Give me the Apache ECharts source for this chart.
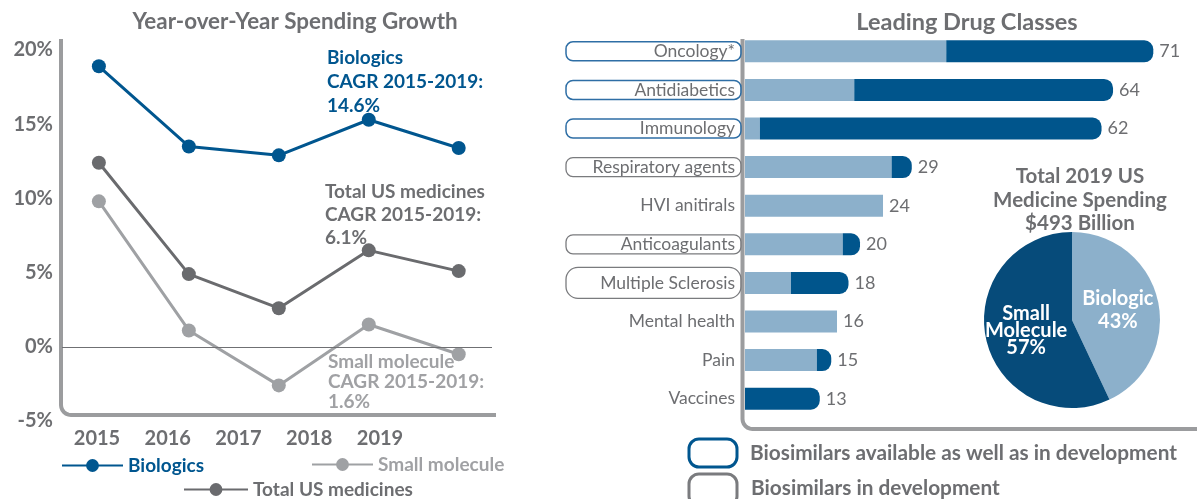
<!doctype html>
<html>
	<head>
		<meta charset="UTF-8">
		<title>US medicine spending</title>
		<script src="https://cdn.jsdelivr.net/npm/echarts@6.0.0/dist/echarts.min.js"></script>
		<style>
			html, body { margin: 0; padding: 0; background: #fff; }
			#main { width: 1197px; height: 499px; }
		</style>
	</head>
	<body>
		<div id="main"></div>
		<script type="text/javascript">
			// 年度增长（%）
			var years = ['2015', '2016', '2017', '2018', '2019'];
			var biologics = [18.9, 13.5, 12.9, 15.3, 13.4];
			var totalUS = [12.4, 4.9, 2.6, 6.5, 5.1];
			var smallMolecule = [9.8, 1.1, -2.6, 1.5, -0.5];

			// 主要药物类别（十亿美元）
			var drugClasses = ['Oncology*', 'Antidiabetics', 'Immunology', 'Respiratory agents', 'HVI anitirals',
				'Anticoagulants', 'Multiple Sclerosis', 'Mental health', 'Pain', 'Vaccines'];
			var classTotals = [71, 64, 62, 29, 24, 20, 18, 16, 15, 13];
			var smallPart = [35, 19, 2.6, 25.5, 24, 17, 8, 16, 12.5, 0];
			var biologicPart = [36, 45, 59.4, 3.5, 0, 3, 10, 0, 2.5, 13];
			var biosimilarStatus = ['available', 'available', 'available', 'development', '',
				'development', 'development', '', '', ''];

			// 2019 总支出构成
			var spendNames = ['Biologic', 'Small Molecule'];
			var spendPct = [43, 57];

			var FONT = 'Lato, "Noto Sans", sans-serif';
			var GRAY = '#6d6e71';
			var BLUE = '#00568f';
			var LIGHT = '#8cb0cb';
			var LGRAY = '#a0a1a4';

			var myChart = echarts.init(document.getElementById('main'));

			function pairs(arr) {
				return arr.map(function (v, i) { return [i, v]; });
			}

			// L形坐标框（圆角）
			function frame(x, top, y, right, r) {
				var pts = [[x, top]];
				for (var d = 0; d <= 90; d += 15) {
					var a = d * Math.PI / 180;
					pts.push([x + r - r * Math.cos(a), y - r + r * Math.sin(a)]);
				}
				pts.push([right, y]);
				return pts;
			}

			function lineSeries(name, data, color) {
				return {
					type: 'line',
					name: name,
					xAxisIndex: 0,
					yAxisIndex: 0,
					data: pairs(data),
					symbol: 'circle',
					symbolSize: 14,
					lineStyle: { color: color, width: 3 },
					itemStyle: { color: color },
					silent: true
				};
			}

			var boxBase = { width: 169, height: 19, align: 'right', padding: [0, 6, 0, 0], fontSize: 17.5, color: GRAY, fontFamily: FONT };
			var richBoxes = {
				avail: echarts.util.extend({ borderColor: '#2e6ea5', borderWidth: 1.5, borderRadius: 7 }, boxBase),
				dev: echarts.util.extend({ borderColor: '#7a7b7e', borderWidth: 1.3, borderRadius: 7 }, boxBase),
				devTall: echarts.util.extend({ borderColor: '#7a7b7e', borderWidth: 1.3, borderRadius: 12 }, boxBase),
				plain: echarts.util.extend({}, boxBase)
			};
			richBoxes.devTall.height = 31;

			var legendText = { fontSize: 19, fontWeight: 'bold' };

			var option = {
				animation: false,
				backgroundColor: '#fff',
				textStyle: { fontFamily: FONT },
				title: [
					{ text: 'Year-over-Year Spending Growth', left: 295, top: 9, textAlign: 'center', padding: 0,
						textStyle: { fontSize: 22.4, fontWeight: 'bold', color: GRAY, lineHeight: 26 } },
					{ text: 'Leading Drug Classes', left: 967, top: 9, textAlign: 'center', padding: 0,
						textStyle: { fontSize: 23.5, fontWeight: 'bold', color: GRAY, lineHeight: 26 } },
					{ text: 'Total 2019 US\nMedicine Spending\n$493 Billion', left: 1080, top: 165, textAlign: 'center', padding: 0,
						textStyle: { fontSize: 20.5, fontWeight: 'bold', color: GRAY, lineHeight: 23.5 } }
				],
				legend: [
					{ data: [{ name: 'Biologics', textStyle: { color: BLUE } }], left: 61, top: 456, padding: 0,
						itemWidth: 61, itemHeight: 16, textStyle: legendText, selectedMode: false },
					{ data: [{ name: 'Small molecule', textStyle: { color: LGRAY } }], left: 311, top: 455, padding: 0,
						itemWidth: 61, itemHeight: 16, textStyle: legendText, selectedMode: false },
					{ data: [{ name: 'Total US medicines', textStyle: { color: GRAY } }], left: 183, top: 480, padding: 0,
						itemWidth: 64, itemHeight: 16, textStyle: legendText, selectedMode: false }
				],
				grid: [
					{ left: 62, right: 705, top: 50, bottom: 78 },
					{ left: 97, right: 817, top: 420, height: 1 },
					{ left: 745, right: 0, top: 32, bottom: 81 }
				],
				xAxis: [
					{ gridIndex: 0, type: 'value', min: -0.41, max: 4.37, show: false },
					{ gridIndex: 1, type: 'category', data: years, boundaryGap: false,
						axisLine: { show: false }, axisTick: { show: false }, splitLine: { show: false },
						axisLabel: { margin: 8, fontSize: 20, fontWeight: 'bold', color: GRAY } },
					{ gridIndex: 2, type: 'value', min: 0, max: 78.6, show: false }
				],
				yAxis: [
					{ gridIndex: 0, type: 'value', min: -5, max: 20, interval: 5,
						axisLine: { show: false }, axisTick: { show: false }, splitLine: { show: false },
						axisLabel: { formatter: '{value}%', margin: 9, fontSize: 20, fontWeight: 'bold', color: GRAY } },
					{ gridIndex: 1, type: 'value', show: false },
					{ gridIndex: 2, type: 'category', data: drugClasses, inverse: true,
						axisLine: { show: false }, axisTick: { show: false }, splitLine: { show: false },
						axisLabel: {
							margin: 4,
							interval: 0,
							formatter: function (value, index) {
								var s = biosimilarStatus[index];
								var key = 'plain';
								if (s === 'available') key = 'avail';
								if (s === 'development') key = value === 'Multiple Sclerosis' ? 'devTall' : 'dev';
								return '{' + key + '|' + value + '}';
							},
							rich: richBoxes
						} }
				],
				series: [
					lineSeries('Small molecule', smallMolecule, '#9fa1a4'),
					lineSeries('Total US medicines', totalUS, '#6a6b6e'),
					lineSeries('Biologics', biologics, BLUE),
					{
						type: 'line', name: 'zero', xAxisIndex: 0, yAxisIndex: 0, data: [], silent: true,
						markLine: { silent: true, symbol: 'none', label: { show: false },
							lineStyle: { color: '#6f7073', width: 1, type: 'solid' }, data: [{ yAxis: 0 }] }
					},
					{
						type: 'bar', name: 'small part', xAxisIndex: 2, yAxisIndex: 2, stack: 'cls',
						data: smallPart, barWidth: 22, itemStyle: { color: LIGHT }, silent: true
					},
					{
						type: 'bar', name: 'biologic part', xAxisIndex: 2, yAxisIndex: 2, stack: 'cls',
						data: biologicPart, barWidth: 22, silent: true,
						itemStyle: { color: '#00558c', borderRadius: [0, 9, 9, 0] },
						label: {
							show: true, position: 'right', distance: 6, fontSize: 18, color: GRAY,
							formatter: function (p) { return classTotals[p.dataIndex]; }
						}
					},
					{
						type: 'pie', name: 'spending', center: [1072, 320], radius: 88, startAngle: 90,
						silent: true,
						data: spendNames.map(function (n, i) {
							return {
								name: n, value: spendPct[i],
								itemStyle: { color: i === 0 ? LIGHT : '#064b7a', borderWidth: 0 },
								label: { lineHeight: i === 0 ? 23 : 17 }
							};
						}),
						label: {
							show: true, position: 'inside', color: '#fff', fontSize: 20, fontWeight: 'bold',
							formatter: function (p) { return p.name.replace(' ', '\n') + '\n' + p.value + '%'; }
						},
						labelLine: { show: false }
					}
				],
				graphic: [
					{ type: 'polyline', silent: true, shape: { points: frame(61, 39, 415, 496, 10) },
						style: { stroke: '#9b9c9e', lineWidth: 4, fill: null } },
					{ type: 'polyline', silent: true, shape: { points: frame(742.5, 39, 429, 1197, 10) },
						style: { stroke: '#9b9c9e', lineWidth: 4, fill: null } },
					{ type: 'text', x: 327, y: 46, silent: true,
						style: { text: 'Biologics\nCAGR 2015-2019:\n14.6%', fontSize: 19, fontWeight: 'bold', fontFamily: FONT,
							fill: BLUE, lineHeight: 24, verticalAlign: 'top' } },
					{ type: 'text', x: 325, y: 180, silent: true,
						style: { text: 'Total US medicines\nCAGR 2015-2019:\n6.1%', fontSize: 19, fontWeight: 'bold', fontFamily: FONT,
							fill: GRAY, lineHeight: 23, verticalAlign: 'top' } },
					{ type: 'text', x: 328, y: 352, silent: true,
						style: { text: 'Small molecule\nCAGR 2015-2019:\n1.6%', fontSize: 19, fontWeight: 'bold', fontFamily: FONT,
							fill: LGRAY, lineHeight: 20, verticalAlign: 'top' } },
					{ type: 'rect', silent: true, shape: { x: 689, y: 439, width: 48, height: 28, r: 10 },
						style: { stroke: BLUE, lineWidth: 3, fill: '#fff' } },
					{ type: 'text', x: 750, y: 453, silent: true,
						style: { text: 'Biosimilars available as well as in development', fontSize: 20.8, fontWeight: 'bold',
							fontFamily: FONT, fill: GRAY, verticalAlign: 'middle' } },
					{ type: 'rect', silent: true, shape: { x: 689, y: 474, width: 48, height: 32, r: 10 },
						style: { stroke: '#7a7b7e', lineWidth: 3, fill: '#fff' } },
					{ type: 'text', x: 751, y: 488, silent: true,
						style: { text: 'Biosimilars in development', fontSize: 20.8, fontWeight: 'bold',
							fontFamily: FONT, fill: GRAY, verticalAlign: 'middle' } }
				]
			};

			myChart.setOption(option);
		</script>
	</body>
</html>
